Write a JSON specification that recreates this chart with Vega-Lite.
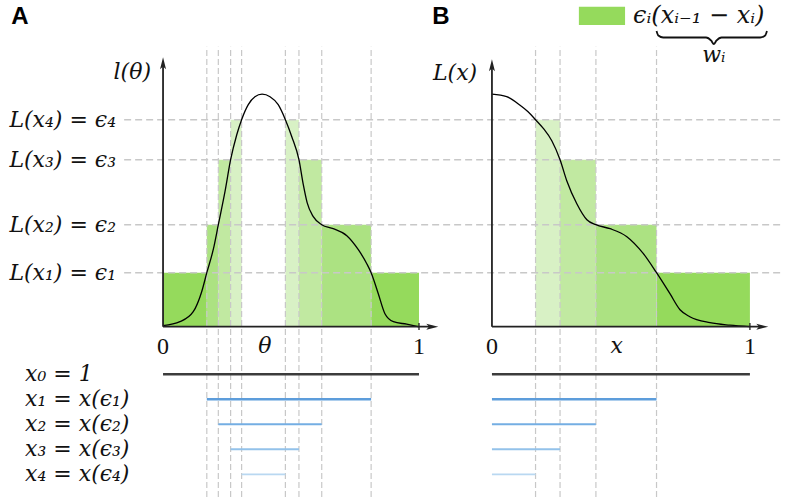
{
  "$schema": "https://vega.github.io/schema/vega-lite/v6.json",
  "width": 785,
  "height": 501,
  "autosize": {"type": "fit", "contains": "padding"},
  "padding": 0,
  "background": "white",
  "config": {"view": {"stroke": null}},
  "datasets": {
    "barsA": [
      {"x": 0, "x2": 0.171, "y": 0, "y2": 0.54, "i": 1},
      {"x": 0.813, "x2": 1, "y": 0, "y2": 0.54, "i": 1},
      {"x": 0.171, "x2": 0.216, "y": 0, "y2": 1.02, "i": 2},
      {"x": 0.62, "x2": 0.813, "y": 0, "y2": 1.02, "i": 2},
      {"x": 0.216, "x2": 0.264, "y": 0, "y2": 1.67, "i": 3},
      {"x": 0.531, "x2": 0.62, "y": 0, "y2": 1.67, "i": 3},
      {"x": 0.264, "x2": 0.307, "y": 0, "y2": 2.07, "i": 4},
      {"x": 0.478, "x2": 0.531, "y": 0, "y2": 2.07, "i": 4}
    ],
    "barsB": [
      {"x": 0.638, "x2": 1, "y": 0, "y2": 0.54, "i": 1},
      {"x": 0.403, "x2": 0.638, "y": 0, "y2": 1.02, "i": 2},
      {"x": 0.264, "x2": 0.403, "y": 0, "y2": 1.67, "i": 3},
      {"x": 0.169, "x2": 0.264, "y": 0, "y2": 2.07, "i": 4}
    ],
    "levels": [{"y": 0.54}, {"y": 1.02}, {"y": 1.67}, {"y": 2.07}],
    "vA": [{"x": 0.171}, {"x": 0.216}, {"x": 0.264}, {"x": 0.307}, {"x": 0.478}, {"x": 0.531}, {"x": 0.62}, {"x": 0.813}],
    "vB": [{"x": 0.169}, {"x": 0.264}, {"x": 0.403}, {"x": 0.638}],
    "curveA": [
      {"x": 0.0, "y": 0.01}, {"x": 0.066, "y": 0.05}, {"x": 0.118, "y": 0.15}, {"x": 0.151, "y": 0.35},
      {"x": 0.171, "y": 0.54}, {"x": 0.197, "y": 0.78}, {"x": 0.216, "y": 1.02}, {"x": 0.242, "y": 1.35},
      {"x": 0.264, "y": 1.67}, {"x": 0.288, "y": 1.92}, {"x": 0.307, "y": 2.07}, {"x": 0.333, "y": 2.22},
      {"x": 0.359, "y": 2.3}, {"x": 0.387, "y": 2.325}, {"x": 0.418, "y": 2.3}, {"x": 0.45, "y": 2.22},
      {"x": 0.478, "y": 2.07}, {"x": 0.503, "y": 1.9}, {"x": 0.531, "y": 1.67}, {"x": 0.548, "y": 1.42},
      {"x": 0.563, "y": 1.24}, {"x": 0.587, "y": 1.1}, {"x": 0.62, "y": 1.02}, {"x": 0.665, "y": 0.98},
      {"x": 0.718, "y": 0.91}, {"x": 0.763, "y": 0.77}, {"x": 0.796, "y": 0.63}, {"x": 0.813, "y": 0.54},
      {"x": 0.841, "y": 0.33}, {"x": 0.867, "y": 0.13}, {"x": 0.9, "y": 0.05}, {"x": 0.952, "y": 0.025},
      {"x": 1.0, "y": 0.0}
    ],
    "curveB": [
      {"x": 0.0, "y": 2.325}, {"x": 0.057, "y": 2.3}, {"x": 0.109, "y": 2.215}, {"x": 0.14, "y": 2.15},
      {"x": 0.169, "y": 2.07}, {"x": 0.2, "y": 1.98}, {"x": 0.232, "y": 1.86}, {"x": 0.264, "y": 1.67},
      {"x": 0.29, "y": 1.46}, {"x": 0.329, "y": 1.23}, {"x": 0.368, "y": 1.07}, {"x": 0.403, "y": 1.02},
      {"x": 0.458, "y": 0.98}, {"x": 0.523, "y": 0.9}, {"x": 0.587, "y": 0.73}, {"x": 0.638, "y": 0.54},
      {"x": 0.69, "y": 0.33}, {"x": 0.729, "y": 0.17}, {"x": 0.767, "y": 0.1}, {"x": 0.845, "y": 0.04},
      {"x": 0.922, "y": 0.015}, {"x": 1.0, "y": 0.0}
    ],
    "intA": [
      {"x": 0, "x2": 1, "y": -0.476, "k": 0},
      {"x": 0.171, "x2": 0.813, "y": -0.726, "k": 1},
      {"x": 0.216, "x2": 0.62, "y": -0.976, "k": 2},
      {"x": 0.264, "x2": 0.531, "y": -1.226, "k": 3},
      {"x": 0.307, "x2": 0.478, "y": -1.476, "k": 4}
    ],
    "intB": [
      {"x": 0, "x2": 1, "y": -0.476, "k": 0},
      {"x": 0, "x2": 0.638, "y": -0.726, "k": 1},
      {"x": 0, "x2": 0.403, "y": -0.976, "k": 2},
      {"x": 0, "x2": 0.264, "y": -1.226, "k": 3},
      {"x": 0, "x2": 0.169, "y": -1.476, "k": 4}
    ],
    "labLeft": [
      {"x": -0.184, "y": 2.07, "t": "L(x₄) = ϵ₄"},
      {"x": -0.184, "y": 1.67, "t": "L(x₃) = ϵ₃"},
      {"x": -0.184, "y": 1.02, "t": "L(x₂) = ϵ₂"},
      {"x": -0.184, "y": 0.54, "t": "L(x₁) = ϵ₁"},
      {"x": -0.047, "y": 2.547, "t": "l(θ)"}
    ],
    "labBottom": [
      {"x": -0.539, "y": -0.476, "t": "x₀ = 1"},
      {"x": -0.539, "y": -0.726, "t": "x₁ = x(ϵ₁)"},
      {"x": -0.539, "y": -0.976, "t": "x₂ = x(ϵ₂)"},
      {"x": -0.539, "y": -1.226, "t": "x₃ = x(ϵ₃)"},
      {"x": -0.539, "y": -1.476, "t": "x₄ = x(ϵ₄)"}
    ],
    "numA": [{"x": 0, "y": -0.2, "t": "0"}, {"x": 1, "y": -0.2, "t": "1"}],
    "numB": [{"x": 0, "y": -0.2, "t": "0"}, {"x": 1, "y": -0.2, "t": "1"}],
    "varA": [{"x": 0.398, "y": -0.19, "t": "θ"}],
    "varB": [{"x": 0.484, "y": -0.19, "t": "x"}, {"x": -0.143, "y": 2.537, "t": "L(x)"}, {"x": 0.86, "y": 2.717, "t": "wᵢ"}],
    "legText": [{"x": 0.547, "y": 3.107, "t": "ϵᵢ(xᵢ₋₁ − xᵢ)"}],
    "brace": [
      {"x": 0.638, "y": 2.957}, {"x": 0.645, "y": 2.912}, {"x": 0.664, "y": 2.892}, {"x": 0.83, "y": 2.892},
      {"x": 0.85, "y": 2.86}, {"x": 0.86, "y": 2.827}, {"x": 0.87, "y": 2.86}, {"x": 0.89, "y": 2.892},
      {"x": 1.04, "y": 2.892}, {"x": 1.059, "y": 2.912}, {"x": 1.066, "y": 2.957}
    ],
    "panels": [{"x": -0.559, "y": 3.1, "t": "A"}, {"x": 1.086, "y": 3.1, "t": "B"}]
  },
  "resolve": {"scale": {"x": "independent"}},
  "layer": [
    {
      "data": {"name": "barsA"},
      "mark": {"type": "rect"},
      "encoding": {
        "x": {"field": "x", "type": "quantitative", "scale": {"domain": [-0.637, 2.43], "nice": false, "zero": false}, "axis": null},
        "x2": {"field": "x2"},
        "y": {"field": "y", "type": "quantitative", "scale": {"domain": [-1.743, 3.267], "nice": false, "zero": false}, "axis": null},
        "y2": {"field": "y2"},
        "fill": {"field": "i", "type": "ordinal", "scale": {"domain": [1, 2, 3, 4], "range": ["#95da5c", "#ace282", "#c1e9a1", "#d8f1c5"]}, "legend": null}
      }
    },
    {
      "data": {"name": "barsB"},
      "mark": {"type": "rect"},
      "encoding": {
        "x": {"field": "x", "type": "quantitative", "scale": {"domain": [-1.907, 1.136], "nice": false, "zero": false}, "axis": null},
        "x2": {"field": "x2"},
        "y": {"field": "y", "type": "quantitative", "scale": {"domain": [-1.743, 3.267], "nice": false, "zero": false}, "axis": null},
        "y2": {"field": "y2"},
        "fill": {"field": "i", "type": "ordinal", "scale": {"domain": [1, 2, 3, 4], "range": ["#95da5c", "#ace282", "#c1e9a1", "#d8f1c5"]}, "legend": null}
      }
    },
    {
      "data": {"name": "levels"},
      "mark": {"type": "rule", "color": "#c8c8c8", "strokeWidth": 1.5, "strokeDash": [7, 4]},
      "encoding": {
        "x": {"datum": -0.152, "type": "quantitative", "scale": {"domain": [-0.637, 2.43], "nice": false, "zero": false}, "axis": null},
        "x2": {"datum": 2.414},
        "y": {"field": "y", "type": "quantitative", "scale": {"domain": [-1.743, 3.267], "nice": false, "zero": false}, "axis": null}
      }
    },
    {
      "data": {"name": "vA"},
      "mark": {"type": "rule", "color": "#c8c8c8", "strokeWidth": 1.2, "strokeDash": [6, 3]},
      "encoding": {
        "x": {"field": "x", "type": "quantitative", "scale": {"domain": [-0.637, 2.43], "nice": false, "zero": false}, "axis": null},
        "y": {"datum": -1.703, "type": "quantitative", "scale": {"domain": [-1.743, 3.267], "nice": false, "zero": false}, "axis": null},
        "y2": {"datum": 2.8}
      }
    },
    {
      "data": {"name": "vB"},
      "mark": {"type": "rule", "color": "#c8c8c8", "strokeWidth": 1.2, "strokeDash": [6, 3]},
      "encoding": {
        "x": {"field": "x", "type": "quantitative", "scale": {"domain": [-1.907, 1.136], "nice": false, "zero": false}, "axis": null},
        "y": {"datum": -1.703, "type": "quantitative", "scale": {"domain": [-1.743, 3.267], "nice": false, "zero": false}, "axis": null},
        "y2": {"datum": 2.8}
      }
    },
    {
      "data": {"name": "curveA"},
      "mark": {"type": "line", "color": "#000000", "strokeWidth": 1.3, "interpolate": "monotone"},
      "encoding": {
        "x": {"field": "x", "type": "quantitative", "scale": {"domain": [-0.637, 2.43], "nice": false, "zero": false}, "axis": null},
        "y": {"field": "y", "type": "quantitative", "scale": {"domain": [-1.743, 3.267], "nice": false, "zero": false}, "axis": null}
      }
    },
    {
      "data": {"name": "curveB"},
      "mark": {"type": "line", "color": "#000000", "strokeWidth": 1.3, "interpolate": "monotone"},
      "encoding": {
        "x": {"field": "x", "type": "quantitative", "scale": {"domain": [-1.907, 1.136], "nice": false, "zero": false}, "axis": null},
        "y": {"field": "y", "type": "quantitative", "scale": {"domain": [-1.743, 3.267], "nice": false, "zero": false}, "axis": null}
      }
    },
    {
      "data": {"values": [{"a": 1}]},
      "mark": {"type": "rule", "color": "#222222", "strokeWidth": 1.8},
      "encoding": {
        "x": {"datum": 0, "type": "quantitative", "scale": {"domain": [-0.637, 2.43], "nice": false, "zero": false}, "axis": null},
        "y": {"datum": 0, "type": "quantitative", "scale": {"domain": [-1.743, 3.267], "nice": false, "zero": false}, "axis": null},
        "y2": {"datum": 2.634}
      }
    },
    {
      "data": {"values": [{"a": 1}]},
      "mark": {"type": "rule", "color": "#222222", "strokeWidth": 1.8},
      "encoding": {
        "x": {"datum": 0, "type": "quantitative", "scale": {"domain": [-0.637, 2.43], "nice": false, "zero": false}, "axis": null},
        "x2": {"datum": 1.052},
        "y": {"datum": 0, "type": "quantitative", "scale": {"domain": [-1.743, 3.267], "nice": false, "zero": false}, "axis": null}
      }
    },
    {
      "data": {"values": [{"a": 1}]},
      "mark": {"type": "rule", "color": "#222222", "strokeWidth": 1.8},
      "encoding": {
        "x": {"datum": 0, "type": "quantitative", "scale": {"domain": [-1.907, 1.136], "nice": false, "zero": false}, "axis": null},
        "y": {"datum": 0, "type": "quantitative", "scale": {"domain": [-1.743, 3.267], "nice": false, "zero": false}, "axis": null},
        "y2": {"datum": 2.614}
      }
    },
    {
      "data": {"values": [{"a": 1}]},
      "mark": {"type": "rule", "color": "#222222", "strokeWidth": 1.8},
      "encoding": {
        "x": {"datum": 0, "type": "quantitative", "scale": {"domain": [-1.907, 1.136], "nice": false, "zero": false}, "axis": null},
        "x2": {"datum": 1.048},
        "y": {"datum": 0, "type": "quantitative", "scale": {"domain": [-1.743, 3.267], "nice": false, "zero": false}, "axis": null}
      }
    },
    {
      "data": {"values": [{"a": 1}]},
      "mark": {"type": "rule", "color": "#222222", "strokeWidth": 1.3},
      "encoding": {
        "x": {"datum": 1, "type": "quantitative", "scale": {"domain": [-0.637, 2.43], "nice": false, "zero": false}, "axis": null},
        "y": {"datum": -0.033, "type": "quantitative", "scale": {"domain": [-1.743, 3.267], "nice": false, "zero": false}, "axis": null},
        "y2": {"datum": 0.037}
      }
    },
    {
      "data": {"values": [{"a": 1}]},
      "mark": {"type": "rule", "color": "#222222", "strokeWidth": 1.3},
      "encoding": {
        "x": {"datum": 1, "type": "quantitative", "scale": {"domain": [-1.907, 1.136], "nice": false, "zero": false}, "axis": null},
        "y": {"datum": -0.033, "type": "quantitative", "scale": {"domain": [-1.743, 3.267], "nice": false, "zero": false}, "axis": null},
        "y2": {"datum": 0.037}
      }
    },
    {
      "data": {"values": [{"x": 0, "y": 2.634}]},
      "mark": {"type": "point", "shape": "M0,-1L0.5,1L0,0.55L-0.5,1Z", "size": 144, "filled": true, "color": "#222222", "opacity": 1},
      "encoding": {
        "x": {"field": "x", "type": "quantitative", "scale": {"domain": [-0.637, 2.43], "nice": false, "zero": false}, "axis": null},
        "y": {"field": "y", "type": "quantitative", "scale": {"domain": [-1.743, 3.267], "nice": false, "zero": false}, "axis": null}
      }
    },
    {
      "data": {"values": [{"x": 1.052, "y": 0}]},
      "mark": {"type": "point", "shape": "M1,0L-1,0.5L-0.55,0L-1,-0.5Z", "size": 144, "filled": true, "color": "#222222", "opacity": 1},
      "encoding": {
        "x": {"field": "x", "type": "quantitative", "scale": {"domain": [-0.637, 2.43], "nice": false, "zero": false}, "axis": null},
        "y": {"field": "y", "type": "quantitative", "scale": {"domain": [-1.743, 3.267], "nice": false, "zero": false}, "axis": null}
      }
    },
    {
      "data": {"values": [{"x": 0, "y": 2.614}]},
      "mark": {"type": "point", "shape": "M0,-1L0.5,1L0,0.55L-0.5,1Z", "size": 144, "filled": true, "color": "#222222", "opacity": 1},
      "encoding": {
        "x": {"field": "x", "type": "quantitative", "scale": {"domain": [-1.907, 1.136], "nice": false, "zero": false}, "axis": null},
        "y": {"field": "y", "type": "quantitative", "scale": {"domain": [-1.743, 3.267], "nice": false, "zero": false}, "axis": null}
      }
    },
    {
      "data": {"values": [{"x": 1.048, "y": 0}]},
      "mark": {"type": "point", "shape": "M1,0L-1,0.5L-0.55,0L-1,-0.5Z", "size": 144, "filled": true, "color": "#222222", "opacity": 1},
      "encoding": {
        "x": {"field": "x", "type": "quantitative", "scale": {"domain": [-1.907, 1.136], "nice": false, "zero": false}, "axis": null},
        "y": {"field": "y", "type": "quantitative", "scale": {"domain": [-1.743, 3.267], "nice": false, "zero": false}, "axis": null}
      }
    },
    {
      "data": {"name": "intA"},
      "mark": {"type": "rule"},
      "encoding": {
        "x": {"field": "x", "type": "quantitative", "scale": {"domain": [-0.637, 2.43], "nice": false, "zero": false}, "axis": null},
        "x2": {"field": "x2"},
        "y": {"field": "y", "type": "quantitative", "scale": {"domain": [-1.743, 3.267], "nice": false, "zero": false}, "axis": null},
        "stroke": {"field": "k", "type": "ordinal", "scale": {"domain": [0, 1, 2, 3, 4], "range": ["#3c3c3c", "#5d9ddb", "#74aee3", "#93c2ea", "#b9d8f1"]}, "legend": null},
        "strokeWidth": {"field": "k", "type": "ordinal", "scale": {"domain": [0, 1, 2, 3, 4], "range": [2.6, 1.7, 1.7, 1.7, 1.7]}, "legend": null}
      }
    },
    {
      "data": {"name": "intB"},
      "mark": {"type": "rule"},
      "encoding": {
        "x": {"field": "x", "type": "quantitative", "scale": {"domain": [-1.907, 1.136], "nice": false, "zero": false}, "axis": null},
        "x2": {"field": "x2"},
        "y": {"field": "y", "type": "quantitative", "scale": {"domain": [-1.743, 3.267], "nice": false, "zero": false}, "axis": null},
        "stroke": {"field": "k", "type": "ordinal", "scale": {"domain": [0, 1, 2, 3, 4], "range": ["#3c3c3c", "#5d9ddb", "#74aee3", "#93c2ea", "#b9d8f1"]}, "legend": null},
        "strokeWidth": {"field": "k", "type": "ordinal", "scale": {"domain": [0, 1, 2, 3, 4], "range": [2.6, 1.7, 1.7, 1.7, 1.7]}, "legend": null}
      }
    },
    {
      "data": {"name": "labLeft"},
      "mark": {"type": "text", "align": "right", "baseline": "middle", "font": "DejaVu Serif", "fontStyle": "italic", "fontSize": 22, "color": "#111111"},
      "encoding": {
        "x": {"field": "x", "type": "quantitative", "scale": {"domain": [-0.637, 2.43], "nice": false, "zero": false}, "axis": null},
        "y": {"field": "y", "type": "quantitative", "scale": {"domain": [-1.743, 3.267], "nice": false, "zero": false}, "axis": null},
        "text": {"field": "t"}
      }
    },
    {
      "data": {"name": "labBottom"},
      "mark": {"type": "text", "align": "left", "baseline": "middle", "font": "DejaVu Serif", "fontStyle": "italic", "fontSize": 22, "color": "#111111"},
      "encoding": {
        "x": {"field": "x", "type": "quantitative", "scale": {"domain": [-0.637, 2.43], "nice": false, "zero": false}, "axis": null},
        "y": {"field": "y", "type": "quantitative", "scale": {"domain": [-1.743, 3.267], "nice": false, "zero": false}, "axis": null},
        "text": {"field": "t"}
      }
    },
    {
      "data": {"name": "numA"},
      "mark": {"type": "text", "align": "center", "baseline": "middle", "font": "Liberation Serif", "fontSize": 24, "color": "#111111"},
      "encoding": {
        "x": {"field": "x", "type": "quantitative", "scale": {"domain": [-0.637, 2.43], "nice": false, "zero": false}, "axis": null},
        "y": {"field": "y", "type": "quantitative", "scale": {"domain": [-1.743, 3.267], "nice": false, "zero": false}, "axis": null},
        "text": {"field": "t"}
      }
    },
    {
      "data": {"name": "numB"},
      "mark": {"type": "text", "align": "center", "baseline": "middle", "font": "Liberation Serif", "fontSize": 24, "color": "#111111"},
      "encoding": {
        "x": {"field": "x", "type": "quantitative", "scale": {"domain": [-1.907, 1.136], "nice": false, "zero": false}, "axis": null},
        "y": {"field": "y", "type": "quantitative", "scale": {"domain": [-1.743, 3.267], "nice": false, "zero": false}, "axis": null},
        "text": {"field": "t"}
      }
    },
    {
      "data": {"name": "varA"},
      "mark": {"type": "text", "align": "center", "baseline": "middle", "font": "DejaVu Serif", "fontStyle": "italic", "fontSize": 22, "color": "#111111"},
      "encoding": {
        "x": {"field": "x", "type": "quantitative", "scale": {"domain": [-0.637, 2.43], "nice": false, "zero": false}, "axis": null},
        "y": {"field": "y", "type": "quantitative", "scale": {"domain": [-1.743, 3.267], "nice": false, "zero": false}, "axis": null},
        "text": {"field": "t"}
      }
    },
    {
      "data": {"name": "varB"},
      "mark": {"type": "text", "align": "center", "baseline": "middle", "font": "DejaVu Serif", "fontStyle": "italic", "fontSize": 22, "color": "#111111"},
      "encoding": {
        "x": {"field": "x", "type": "quantitative", "scale": {"domain": [-1.907, 1.136], "nice": false, "zero": false}, "axis": null},
        "y": {"field": "y", "type": "quantitative", "scale": {"domain": [-1.743, 3.267], "nice": false, "zero": false}, "axis": null},
        "text": {"field": "t"}
      }
    },
    {
      "data": {"values": [{"a": 1}]},
      "mark": {"type": "rect", "color": "#95da5c"},
      "encoding": {
        "x": {"datum": 0.337, "type": "quantitative", "scale": {"domain": [-1.907, 1.136], "nice": false, "zero": false}, "axis": null},
        "x2": {"datum": 0.516},
        "y": {"datum": 3.017, "type": "quantitative", "scale": {"domain": [-1.743, 3.267], "nice": false, "zero": false}, "axis": null},
        "y2": {"datum": 3.2}
      }
    },
    {
      "data": {"name": "legText"},
      "mark": {"type": "text", "align": "left", "baseline": "middle", "font": "DejaVu Serif", "fontStyle": "italic", "fontSize": 24, "color": "#111111"},
      "encoding": {
        "x": {"field": "x", "type": "quantitative", "scale": {"domain": [-1.907, 1.136], "nice": false, "zero": false}, "axis": null},
        "y": {"field": "y", "type": "quantitative", "scale": {"domain": [-1.743, 3.267], "nice": false, "zero": false}, "axis": null},
        "text": {"field": "t"}
      }
    },
    {
      "data": {"name": "brace"},
      "mark": {"type": "line", "color": "#111111", "strokeWidth": 1.8, "interpolate": "monotone"},
      "encoding": {
        "x": {"field": "x", "type": "quantitative", "scale": {"domain": [-1.907, 1.136], "nice": false, "zero": false}, "axis": null},
        "y": {"field": "y", "type": "quantitative", "scale": {"domain": [-1.743, 3.267], "nice": false, "zero": false}, "axis": null}
      }
    },
    {
      "data": {"name": "panels"},
      "mark": {"type": "text", "align": "center", "baseline": "middle", "font": "Liberation Sans", "fontWeight": "bold", "fontSize": 24, "color": "#000000"},
      "encoding": {
        "x": {"field": "x", "type": "quantitative", "scale": {"domain": [-0.637, 2.43], "nice": false, "zero": false}, "axis": null},
        "y": {"field": "y", "type": "quantitative", "scale": {"domain": [-1.743, 3.267], "nice": false, "zero": false}, "axis": null},
        "text": {"field": "t"}
      }
    }
  ]
}
